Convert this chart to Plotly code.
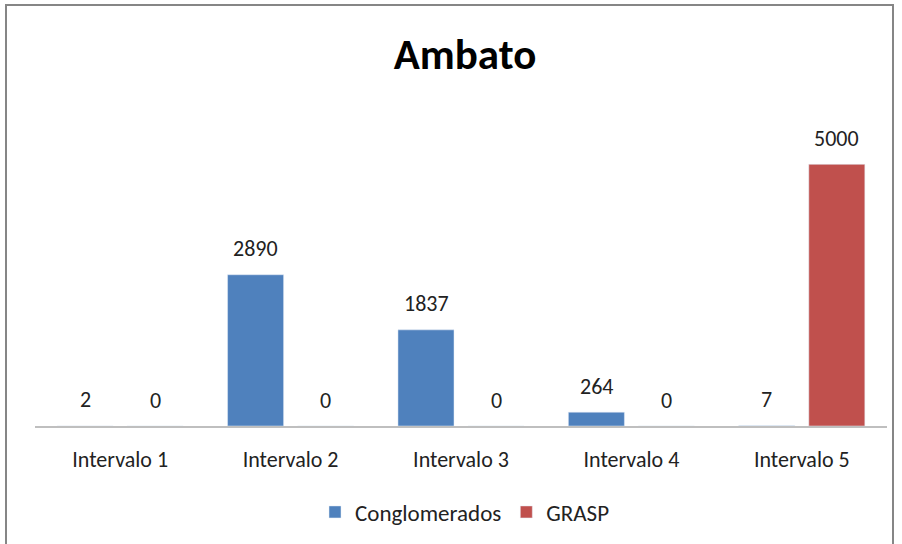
import plotly.graph_objects as go

categorias = ['Intervalo 1', 'Intervalo 2', 'Intervalo 3', 'Intervalo 4', 'Intervalo 5']
conglomerados = [2, 2890, 1837, 264, 7]
grasp = [0, 0, 0, 0, 5000]

fuente = 'Carlito, Lato, sans-serif'
azul = '#4F81BD'
rojo = '#C0504D'

fig = go.Figure()
fig.add_trace(go.Bar(x=categorias, y=conglomerados, name='Conglomerados', marker_color=azul))
fig.add_trace(go.Bar(x=categorias, y=grasp, name='GRASP', marker_color=rojo))

# etiquetas de valor encima de cada barra
anotaciones = []
for serie, desp in ((conglomerados, -35), (grasp, 35)):
    for cat, v in zip(categorias, serie):
        anotaciones.append(dict(x=cat, y=v, text=str(v), showarrow=False, xshift=desp,
                                yshift=26, yanchor='middle',
                                font=dict(family=fuente, size=22, color='#222')))

fig.update_layout(
    width=902, height=544,
    margin=dict(l=35, r=15, t=112, b=118),
    paper_bgcolor='white', plot_bgcolor='white',
    barmode='group', bargap=0.178, bargroupgap=0.2,
    title=dict(text='<b>Ambato</b>', x=465 / 902, xref='container', xanchor='center',
               y=1 - 54 / 544, yref='container', yanchor='middle',
               font=dict(family=fuente, size=43, color='black')),
    xaxis=dict(showline=True, linecolor='#BFBFBF', linewidth=1.5, ticks='',
               ticklabelstandoff=13, tickfont=dict(family=fuente, size=22, color='#222')),
    yaxis=dict(range=[0, 6000], visible=False, showgrid=False, zeroline=False),
    legend=dict(orientation='h', x=465 / 902, xref='container', xanchor='center',
                y=1 - 512 / 544, yref='container', yanchor='middle',
                font=dict(family=fuente, size=23, color='#222')),
    annotations=anotaciones,
    shapes=[dict(type='rect', xref='paper', yref='paper',
                 x0=(6 - 35) / 852, x1=(893 - 35) / 852,
                 y0=(426 - 560) / 314, y1=(426 - 5) / 314,
                 line=dict(color='#868686', width=2), fillcolor='rgba(0,0,0,0)', layer='above')],
)

fig.write_html('out.html', config={'displayModeBar': False},
               post_script="document.body.style.margin='0';")
